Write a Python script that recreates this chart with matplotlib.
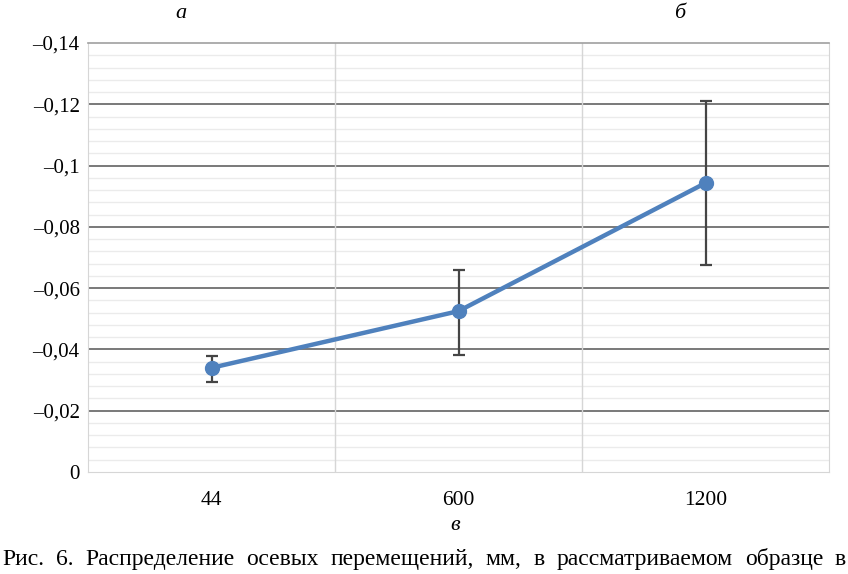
import matplotlib
matplotlib.use("Agg")
import matplotlib.pyplot as plt
import numpy as np
from matplotlib.ticker import FixedLocator, MultipleLocator, FuncFormatter

plt.rcParams["font.family"] = ["Liberation Serif", "DejaVu Serif"]

categories = ["44", "600", "1200"]
values = [-0.034, -0.0525, -0.0943]
err_low = [-0.0300, -0.0392, -0.0675]
err_high = [-0.0385, -0.0669, -0.1210]
y_ticks = [0, -0.02, -0.04, -0.06, -0.08, -0.1, -0.12, -0.14]
caption = "Рис. 6. Распределение осевых перемещений, мм, в рассматриваемом образце в"

fig = plt.figure(figsize=(8.48, 5.74), dpi=100)
ax = fig.add_axes([88 / 848, 1 - 472 / 574, (829 - 88) / 848, (472 - 43) / 574])

x = np.arange(len(categories))
vals = np.array(values)
lo = np.abs(vals - np.array(err_low))
hi = np.abs(np.array(err_high) - vals)

ax.set_xlim(-0.5, len(categories) - 0.5)
ax.set_ylim(0, -0.14)

# grid: light minor lines, dark majors only inside the plot
ax.yaxis.set_major_locator(FixedLocator(y_ticks))
ax.yaxis.set_minor_locator(MultipleLocator(0.004))
ax.grid(True, which="minor", axis="y", color="#ebebeb", lw=1.0)
for t in y_ticks[1:-1]:
    ax.axhline(t, color="#555555", lw=1.1, zorder=1)
for b in np.arange(0.5, len(categories) - 0.5):
    ax.axvline(b, color="#d6d6d6", lw=1.0, zorder=1)
ax.set_axisbelow(True)

for s in ["left", "bottom", "right"]:
    ax.spines[s].set_color("#d6d6d6")
ax.spines["top"].set_color("#a0a0a0")
ax.spines["top"].set_linewidth(1.2)

def fmt(v, pos):
    if abs(v) < 1e-9:
        return "0"
    return "–" + ("%g" % abs(v)).replace(".", ",")

ax.yaxis.set_major_formatter(FuncFormatter(fmt))
ax.tick_params(axis="y", which="both", length=0, labelsize=15, pad=6, colors="black")
ax.set_xticks(x)
ax.set_xticklabels(categories)
ax.tick_params(axis="x", length=0, labelsize=15.5, pad=14)

ax.errorbar(x, vals, yerr=[lo, hi], fmt="none", ecolor="#454545", elinewidth=1.6,
            capsize=4, capthick=1.6, zorder=3)
ax.plot(x, vals, color="#4f81bd", lw=3.2, marker="o", markersize=10,
        markerfacecolor="#4f81bd", markeredgecolor="#4f81bd", zorder=4,
        solid_capstyle="round")

fig.text(181 / 848, 1 - 13 / 574, "а", fontsize=16, style="italic", ha="center", va="center")
fig.text(680 / 848, 1 - 13 / 574, "б", fontsize=16, style="italic", ha="center", va="center")
fig.text(455 / 848, 1 - 525 / 574, "в", fontsize=16, style="italic", ha="center", va="center")

# justified caption line
words = caption.split()
texts = [fig.text(0, 1 - 565 / 574, w, fontsize=17, ha="left", va="baseline") for w in words]
fig.canvas.draw()
r = fig.canvas.get_renderer()
widths = [t.get_window_extent(r).width for t in texts]
x0, x1 = 2.0, 846.0
gap = (x1 - x0 - sum(widths)) / (len(words) - 1)
pos = x0
for t, w in zip(texts, widths):
    t.set_x(pos / 848)
    pos += w + gap

fig.savefig("out.png", dpi=100)
